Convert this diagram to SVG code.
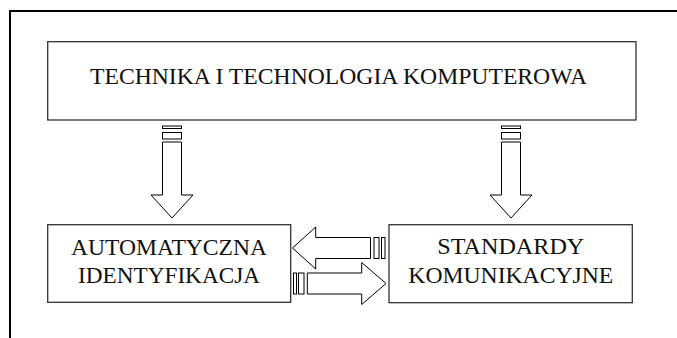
<svg xmlns="http://www.w3.org/2000/svg" width="677" height="338" viewBox="0 0 677 338">
<style>
.box{fill:#fff;stroke:#333;stroke-width:1.3}
.lbl{font-family:"Liberation Serif","Times New Roman",serif;font-size:24px;fill:#111}
.arr{fill:#fff;stroke:#000;stroke-width:1}
</style>
<rect width="677" height="338" fill="#fff"/>
<path d="M10,338 V11 H677" fill="none" stroke="#000" stroke-width="2"/>
<g id="n_top">
<rect class="box" x="47.7" y="41.7" width="588.3" height="78.3"/>
<text class="lbl" x="90" y="83.5" textLength="497" lengthAdjust="spacingAndGlyphs">TECHNIKA I TECHNOLOGIA KOMPUTEROWA</text>
</g>
<g id="n_auto">
<rect class="box" x="47.7" y="224.7" width="243" height="77.6"/>
<text class="lbl" x="169" y="255" text-anchor="middle" textLength="196" lengthAdjust="spacingAndGlyphs">AUTOMATYCZNA</text>
<text class="lbl" x="169" y="283" text-anchor="middle" textLength="182" lengthAdjust="spacingAndGlyphs">IDENTYFIKACJA</text>
</g>
<g id="n_std">
<rect class="box" x="389" y="224.7" width="243.3" height="78"/>
<text class="lbl" x="510.8" y="254.3" text-anchor="middle" textLength="147" lengthAdjust="spacingAndGlyphs">STANDARDY</text>
<text class="lbl" x="510.8" y="282.7" text-anchor="middle" textLength="205" lengthAdjust="spacingAndGlyphs">KOMUNIKACYJNE</text>
</g>
<g id="connectors">
<g id="c_top_auto">
<rect class="arr" x="162.5" y="126" width="19" height="2.5"/>
<rect class="arr" x="162.5" y="132.5" width="19" height="6.5"/>
<path class="arr" d="M162.5,142 V195 H151 L172,218 L193,195 H181.5 V142 Z"/>
</g>
<g id="c_top_std">
<rect class="arr" x="501.5" y="126" width="19" height="2.5"/>
<rect class="arr" x="501.5" y="132.5" width="19" height="6.5"/>
<path class="arr" d="M501.5,142 V195 H490 L511,218 L532,195 H520.5 V142 Z"/>
</g>
<g id="c_std_auto">
<rect class="arr" x="381.5" y="237.5" width="3.5" height="21"/>
<rect class="arr" x="374" y="237.5" width="5" height="21"/>
<path class="arr" d="M370.5,237.5 H315.7 V227 L292.5,248 L315.7,269 V258.5 H370.5 Z"/>
</g>
<g id="c_auto_std">
<rect class="arr" x="293.5" y="273" width="3" height="21"/>
<rect class="arr" x="298.5" y="273" width="5.5" height="21"/>
<path class="arr" d="M307.3,273 H361.7 V262.5 L386,283.5 L361.7,304.5 V294 H307.3 Z"/>
</g>
</g>
</svg>
